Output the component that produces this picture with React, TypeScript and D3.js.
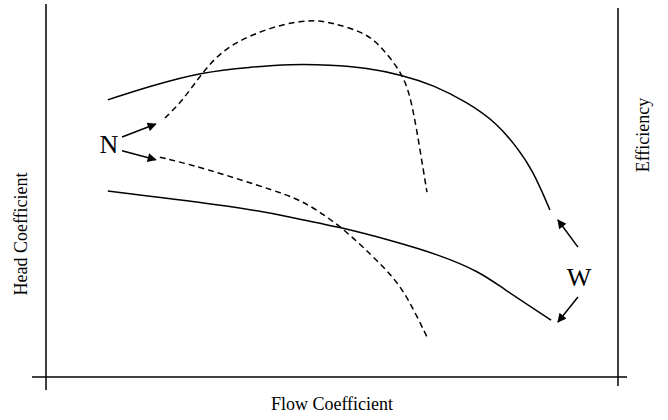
import { scaleLinear, line, curveBasis } from "d3";

// schematic compressor characteristic, values in % of axis range
const headWide: [number, number][] = [
    [10.8, 74.5], [18.2, 78.2], [27.4, 82.0], [35.7, 83.3], [42.7, 84.1],
    [49.7, 83.9], [56.1, 83.1], [62.2, 81.2], [67.7, 78.5], [73.6, 73.9],
    [78.8, 68.3], [82.3, 61.8], [85.1, 55.6], [88.1, 44.9],
];
const headNarrow: [number, number][] = [
    [10.8, 50.0], [33.9, 45.7], [42.7, 43.0], [51.9, 40.1], [60.1, 36.8],
    [68.9, 32.8], [75.9, 28.2], [79.5, 24.2], [88.3, 15.3],
];
const effNarrowTop: [number, number][] = [
    [20.8, 69.6], [24.0, 74.5], [27.4, 82.0], [30.9, 87.9], [35.7, 91.9],
    [41.4, 94.9], [46.2, 96.0], [49.7, 95.4], [56.1, 92.5], [59.1, 87.9],
    [62.8, 80.6], [64.2, 71.8], [65.4, 61.0], [66.6, 49.7],
];
const effNarrowBottom: [number, number][] = [
    [19.9, 59.1], [26.9, 56.5], [40.9, 49.7], [45.6, 46.8], [51.9, 40.1],
    [57.2, 32.3], [60.7, 26.9], [63.3, 21.2], [66.6, 10.8],
];

// annotation arrows: [tailX, tailY, headX, headY]
const nArrows = [
    [13.3, 64.5, 19.2, 68.0],
    [13.3, 60.8, 19.2, 58.4],
];
const wArrows = [
    [93.0, 34.9, 89.5, 42.2],
    [93.0, 21.5, 89.5, 14.8],
];
const labelN = { text: "N", x: 11.0, y: 60.3 };
const labelW = { text: "W", x: 93.2, y: 24.5 };

const xLabel = "Flow Coefficient";
const yLabel = "Head Coefficient";
const y2Label = "Efficiency";

export default function App() {
    const width = 668;
    const height = 420;
    const margin = { top: 5, right: 50, bottom: 43, left: 46 };

    const x = scaleLinear().domain([0, 100]).range([margin.left, width - margin.right]);
    const y = scaleLinear().domain([0, 100]).range([height - margin.bottom, margin.top]);

    const path = line<[number, number]>()
        .x((d) => x(d[0]))
        .y((d) => y(d[1]))
        .curve(curveBasis);

    const font = "'Liberation Serif', 'Times New Roman', serif";

    return (
        <svg
            width={width}
            height={height}
            style={{ position: "absolute", left: 0, top: 0, background: "#fff" }}
        >
            <defs>
                <marker
                    id="arrow"
                    viewBox="0 0 10 10"
                    refX="9"
                    refY="5"
                    markerWidth="7"
                    markerHeight="6"
                    markerUnits="strokeWidth"
                    orient="auto"
                >
                    <path d="M0,0 L10,5 L0,10 z" fill="#000" />
                </marker>
            </defs>

            {/* axes */}
            <g stroke="#000" strokeWidth={1.5}>
                <line x1={x(0)} x2={x(0)} y1={y(0) + 13} y2={margin.top - 1} />
                <line x1={x(100)} x2={x(100)} y1={y(0) + 9} y2={margin.top + 3} />
                <line x1={x(0) - 14} x2={x(100) + 9} y1={y(0)} y2={y(0)} />
            </g>

            <g fill="none" stroke="#000" strokeWidth={1.5}>
                <path d={path(headWide) ?? ""} />
                <path d={path(headNarrow) ?? ""} />
                <path d={path(effNarrowTop) ?? ""} strokeDasharray="6,4" />
                <path d={path(effNarrowBottom) ?? ""} strokeDasharray="6,4" />
            </g>

            <g stroke="#000" strokeWidth={1.5}>
                {[...nArrows, ...wArrows].map((a, i) => (
                    <line
                        key={`arr-${i}`}
                        x1={x(a[0])}
                        y1={y(a[1])}
                        x2={x(a[2])}
                        y2={y(a[3])}
                        markerEnd="url(#arrow)"
                    />
                ))}
            </g>

            <g fontFamily={font} fill="#000">
                <text x={x(labelN.x)} y={y(labelN.y)} fontSize={26} textAnchor="middle">
                    {labelN.text}
                </text>
                <text x={x(labelW.x)} y={y(labelW.y)} fontSize={26} textAnchor="middle">
                    {labelW.text}
                </text>
                <text x={(x(0) + x(100)) / 2} y={410} fontSize={18} textAnchor="middle">
                    {xLabel}
                </text>
                <text
                    transform={`translate(27, 234) rotate(-90)`}
                    fontSize={18}
                    textAnchor="middle"
                >
                    {yLabel}
                </text>
                <text
                    transform={`translate(649, 135) rotate(-90)`}
                    fontSize={18}
                    textAnchor="middle"
                >
                    {y2Label}
                </text>
            </g>
        </svg>
    );
}
